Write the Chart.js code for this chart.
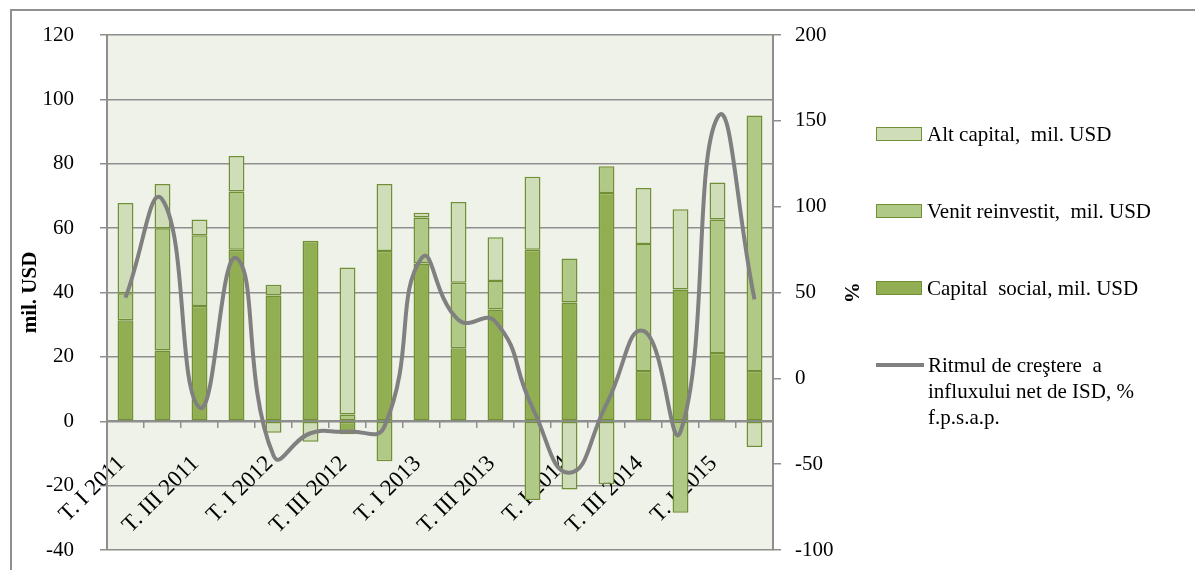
<!DOCTYPE html>
<html>
<head>
<meta charset="utf-8">
<script src="https://cdn.jsdelivr.net/npm/chart.js@4"></script>
<style>
    body { margin: 0; background: #fff; overflow: hidden; }
    #wrap { position: relative; width: 1195px; height: 570px; overflow: hidden; }
    #frame { position: absolute; left: 10px; top: 9px; width: 1400px; height: 800px;
             border-left: 2px solid #909090; border-top: 2px solid #909090; }
    #chart { position: absolute; left: 0; top: -10px; }
    #legend { position: absolute; left: 876px; top: 121px; font-family: 'Liberation Serif', serif;
              font-size: 21px; color: #000; }
    .item { display: flex; align-items: flex-start; height: 77px; }
    .box { width: 44px; height: 12px; border: 1.5px solid #718f35; margin: 6px 5px 0 0; }
    .line { width: 48px; height: 4px; background: #808080; margin: 11px 4px 0 0; }
    .txt { line-height: 26px; white-space: pre; }
</style>
</head>
<body>
<div id="wrap">
    <div id="frame"></div>
    <canvas id="chart" width="1195" height="620"></canvas>
    <div id="legend"></div>
</div>
<script>
        const trimestre = ['T. I 2011', 'T. II 2011', 'T. III 2011', 'T. IV 2011',
                           'T. I 2012', 'T. II 2012', 'T. III 2012', 'T. IV 2012',
                           'T. I 2013', 'T. II 2013', 'T. III 2013', 'T. IV 2013',
                           'T. I 2014', 'T. II 2014', 'T. III 2014', 'T. IV 2014',
                           'T. I 2015', 'T. II 2015'];
        const capitalSocial = [31.4, 22, 35.8, 53.3, 39.1, 56.1, -4, 52.9, 49, 22.7, 34.7, 53.3, 36.9, 70.9, 15.6, 40.9, 21.2, 15.6];
        const venitReinvestit = [8.4, 38, 22, 18.1, 3.3, 0, 2.1, -12.4, 14.3, 20.3, 8.9, -24.5, 13.7, 8.3, 39.5, -28.4, 41.5, 79.4];
        const altCapital = [28, 13.7, 4.9, 11, -3.6, -6.4, 45.7, 20.8, 1.5, 25.1, 13.6, 22.7, -21.2, -19.6, 17.4, 25, 11.5, -8];
        const ritmCrestere = [47, 104, -17, 70, -45, -32, -31, -28, 70, 34, 33, -17, -55, -15, 27.6, -31, 152, 46];
        const ticksMil = [-40, 120, 20];
        const ticksProc = [-100, 200, 50];

        const gri = '#8e8e8e';
        const fundal = {
            id: 'fundal',
            beforeDraw(chart) {
                const a = chart.chartArea;
                chart.ctx.save();
                chart.ctx.fillStyle = '#eff2e8';
                chart.ctx.fillRect(a.left, a.top, a.right - a.left, a.bottom - a.top);
                chart.ctx.restore();
            }
        };

        Chart.defaults.font.family = "'Liberation Serif', serif";
        Chart.defaults.color = '#000';

        function bara(label, data, culoare) {
            return {
                type: 'bar', label: label, data: data, yAxisID: 'y', order: 1,
                backgroundColor: culoare, borderColor: '#718f35', borderWidth: 1.5,
                borderSkipped: false, barPercentage: 0.43, categoryPercentage: 1
            };
        }

        const ctx = document.getElementById('chart').getContext('2d');
        const grafic = new Chart(ctx, {
            data: {
                labels: trimestre,
                datasets: [
                    {
                        type: 'line', label: 'Ritmul de creştere  a\ninfluxului net de ISD, %\nf.p.s.a.p.',
                        data: ritmCrestere, yAxisID: 'y1', order: 0,
                        borderColor: '#808080', borderWidth: 4, pointRadius: 0, tension: 0.5
                    },
                    bara('Capital  social, mil. USD', capitalSocial, '#91af52'),
                    bara('Venit reinvestit,  mil. USD', venitReinvestit, '#b0c986'),
                    bara('Alt capital,  mil. USD', altCapital, '#d0ddb9')
                ]
            },
            options: {
                responsive: false,
                animation: false,
                layout: { padding: { top: 45, bottom: 60, left: 12, right: 328 } },
                plugins: { legend: { display: false }, tooltip: { enabled: false } },
                scales: {
                    x: {
                        position: { y: 0 },
                        stacked: true,
                        border: { color: gri, width: 2 },
                        grid: { drawOnChartArea: false, offset: true, color: gri, lineWidth: 1.5, tickLength: 6 },
                        ticks: {
                            autoSkip: false, minRotation: 45, maxRotation: 45, padding: 23, labelOffset: -4,
                            font: { size: 23 },
                            callback: function(v, i) { return i % 2 === 0 ? this.getLabelForValue(v) : ''; }
                        }
                    },
                    y: {
                        position: 'left', stacked: true,
                        min: ticksMil[0], max: ticksMil[1],
                        border: { color: gri, width: 2 },
                        grid: { color: gri, lineWidth: 1.5, tickLength: 7 },
                        ticks: { stepSize: ticksMil[2], padding: 26, font: { size: 21 } },
                        title: { display: true, text: 'mil. USD', font: { size: 21, weight: 'bold' }, padding: 6 },
                        afterFit: s => { s.width = 95; }
                    },
                    y1: {
                        position: 'right',
                        min: ticksProc[0], max: ticksProc[1],
                        border: { color: gri, width: 2 },
                        grid: { drawOnChartArea: false, color: gri, lineWidth: 1.5, tickLength: 8 },
                        ticks: { stepSize: ticksProc[2], padding: 14, font: { size: 21 } },
                        title: { display: true, text: '%', font: { size: 21, weight: 'bold' }, padding: 4 },
                        afterFit: s => { s.width = 94; }
                    }
                }
            },
            plugins: [fundal]
        });

        // legenda: bare in ordine inversa, apoi linia
        const legenda = document.getElementById('legend');
        const ds = grafic.data.datasets;
        [ds[3], ds[2], ds[1], ds[0]].forEach(function(d) {
            const item = document.createElement('div');
            item.className = 'item';
            const semn = document.createElement('div');
            if (d.type === 'bar') {
                semn.className = 'box';
                semn.style.background = d.backgroundColor;
            } else {
                semn.className = 'line';
            }
            const txt = document.createElement('div');
            txt.className = 'txt';
            txt.textContent = d.label;
            item.appendChild(semn);
            item.appendChild(txt);
            legenda.appendChild(item);
        });
</script>
</body>
</html>
